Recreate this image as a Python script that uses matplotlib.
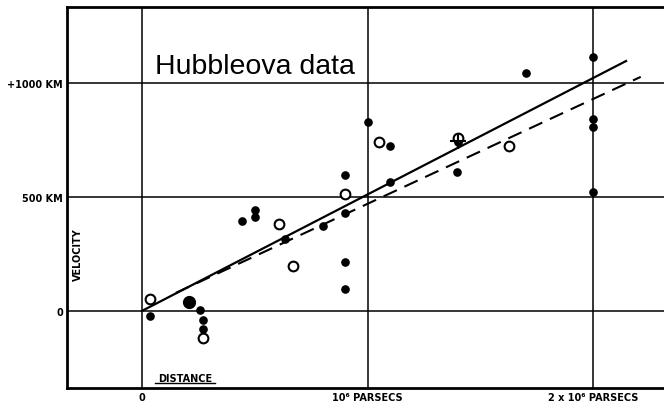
import numpy as np
import matplotlib
matplotlib.use("Agg")
import matplotlib.pyplot as plt

# distance in 10^6 parsecs, velocity in km/s
filled_dist = [0.035, 0.257, 0.270, 0.270, 0.443, 0.501, 0.501, 0.634, 0.802,
               0.900, 0.900, 0.900, 0.900, 1.000, 1.099, 1.099, 1.396, 1.400,
               1.701, 2.000, 2.000, 2.000, 2.000]
filled_vel = [-22, 4, -39, -79, 395, 443, 412, 316, 373,
              596, 430, 215, 96, 829, 724, 566, 610, 741,
              1044, 1114, 842, 807, 522]

big_dist = [0.208]
big_vel = [39]

open_dist = [0.035, 0.270, 0.607, 0.669, 0.900, 1.050, 1.400, 1.626]
open_vel = [53, -118, 382, 197, 513, 741, 759, 724]

cross_dist = [1.40]
cross_vel = [745]

# fitted lines: solid (individual nebulae), dashed (groups)
solid_x = [0.0, 2.145]
solid_k = 511
dashed_x = [0.15, 2.21]
dashed_k = 460
dashed_b = 10

xticks = [0, 1, 2]
xlabels = ["0", "10⁶ PARSECS", "2 x 10⁶ PARSECS"]
yticks = [0, 500, 1000]
ylabels = ["0", "500 KM", "+1000 KM"]

fam = ["Liberation Sans Narrow", "DejaVu Sans"]

fig = plt.figure(figsize=(6.64, 4.06), dpi=100)
ax = fig.add_axes([67 / 664, 1 - 389 / 406, (666 - 67) / 664, (389 - 8) / 406])
ax.set_xlim(-0.332, 2.322)
ax.set_ylim(-338, 1333)

for x in xticks:
    ax.axvline(x, color="black", lw=1.1, zorder=1)
for y in yticks:
    ax.axhline(y, color="black", lw=1.1, zorder=1)

sx = np.array(solid_x)
ax.plot(sx, solid_k * sx, color="black", lw=1.6, zorder=2)
dx = np.array(dashed_x)
ax.plot(dx, dashed_k * dx + dashed_b, color="black", lw=1.5,
        dashes=(7, 4), zorder=2)

ax.plot(filled_dist, filled_vel, "o", color="black", ms=5.2, zorder=3)
ax.plot(big_dist, big_vel, "o", color="black", ms=8.5, zorder=3)
ax.plot(open_dist, open_vel, "o", mfc="white", mec="black", mew=1.5,
        ms=7, zorder=4)
ax.plot(cross_dist, cross_vel, "+", color="black", ms=11, mew=1.5, zorder=5)

for s in ax.spines.values():
    s.set_linewidth(2)

ax.set_xticks(xticks)
ax.set_xticklabels(xlabels, family=fam, fontweight="bold", fontsize=7)
ax.set_yticks(yticks)
ax.set_yticklabels(ylabels, family=fam, fontweight="bold", fontsize=7)
ax.tick_params(length=0, pad=3)

ax.text(0.192, -295, "DISTANCE", family=fam, fontweight="bold", fontsize=7,
        ha="center", va="center")
ax.plot([0.06, 0.325], [-318, -318], color="black", lw=1.0)
ax.text(-0.285, 250, "VELOCITY", family=fam, fontweight="bold", fontsize=7,
        rotation=90, ha="center", va="center")

ax.text(0.058, 1044, "Hubbleova data", family=["Liberation Sans", "DejaVu Sans"],
        fontsize=20.5, ha="left", va="baseline")

fig.savefig("out.png", dpi=100)
